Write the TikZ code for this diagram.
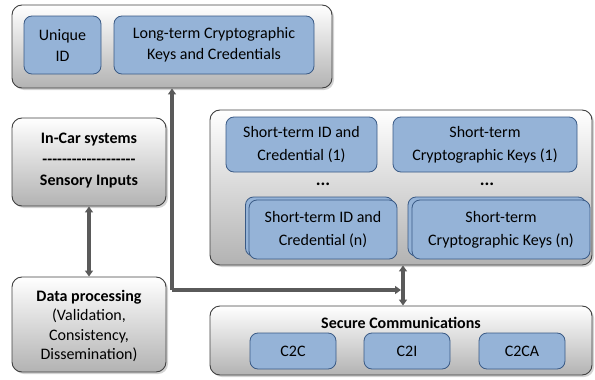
\documentclass[tikz,border=0pt]{standalone}
\usepackage{fontspec}
\setmainfont{Carlito}
\usetikzlibrary{shadows,arrows.meta}
\definecolor{bluefill}{HTML}{95B3D7}
\definecolor{blueline}{HTML}{3A5A85}
\definecolor{arrowgray}{HTML}{5A5A5A}
\definecolor{outline}{HTML}{404040}
\newcommand\dsh{-\kern0pt}
\tikzset{
  outerbox/.style={draw=outline, line width=0.9pt, rounded corners=10pt,
    top color=white, bottom color=black!30, drop shadow={opacity=0.35, shadow xshift=2pt, shadow yshift=-2pt}},
  bluebox/.style={draw=blueline, line width=0.8pt, rounded corners=8pt, fill=bluefill,
    align=center, inner sep=0pt, font=\fontsize{16}{21}\selectfont},
  stackback/.style={draw=blueline, line width=0.8pt, rounded corners=8pt, fill=bluefill},
  conn/.style={draw=arrowgray, line width=3.4pt},
  tip/.style={-{Triangle[length=6pt,width=8pt]}},
  dtip/.style={{Triangle[length=6pt,width=8pt]}-{Triangle[length=6pt,width=8pt]}},
  lbl/.style={align=center, font=\fontsize{16}{20}\selectfont, inner sep=0pt},
}
\begin{document}
\begin{tikzpicture}[x=1pt,y=-1pt]
\useasboundingbox (0,0) rectangle (595,380);
% top
\node[outerbox, minimum width=320pt, minimum height=83pt] (top) at (172,46.5) {};
\node[bluebox, minimum width=77pt, minimum height=58pt] (uid) at (62.5,45) {Unique\\ID};
\node[bluebox, minimum width=200pt, minimum height=58pt] (ltk) at (214,45) {Long-term Cryptographic\\Keys and Credentials};
% left
\node[outerbox, minimum width=154pt, minimum height=88pt] (incar) at (89,162) {};
\node[lbl, font=\fontsize{16}{21}\selectfont\bfseries] (incarT) at (89,161) {In-Car systems\\\dsh\dsh\dsh\dsh\dsh\dsh\dsh\dsh\dsh\dsh\dsh\dsh\dsh\dsh\dsh\dsh\dsh\dsh\dsh\\Sensory Inputs};
\node[outerbox, minimum width=154pt, minimum height=95pt] (dp) at (89,324.5) {};
\node[lbl, font=\fontsize{16}{19.5}\selectfont] (dpT) at (89,326) {\textbf{Data processing}\\(Validation,\\Consistency,\\Dissemination)};
% middle right
\node[outerbox, minimum width=382pt, minimum height=155pt] (mid) at (401,187.5) {};
\node[bluebox, minimum width=151pt, minimum height=55pt, font=\fontsize{16}{23}\selectfont] (st1) at (301.5,144.5) {Short-term ID and\\Credential (1)};
\node[bluebox, minimum width=184pt, minimum height=55pt, font=\fontsize{16}{23}\selectfont] (sk1) at (485,144.5) {Short-term\\Cryptographic Keys (1)};
\node[lbl, font=\fontsize{18}{15}\selectfont\bfseries] (dots1) at (323,184) {...};
\node[lbl, font=\fontsize{18}{15}\selectfont\bfseries] (dots2) at (487,184) {...};
\node[stackback, minimum width=148pt, minimum height=59pt] (stnb) at (319.5,226.5) {};
\node[bluebox, minimum width=148pt, minimum height=59pt, font=\fontsize{16}{23}\selectfont] (stn) at (323,229.5) {Short-term ID and\\Credential (n)};
\node[stackback, minimum width=178pt, minimum height=59pt] (sknb) at (497,226.5) {};
\node[bluebox, minimum width=178pt, minimum height=59pt, font=\fontsize{16}{23}\selectfont] (skn) at (501,229.5) {Short-term\\Cryptographic Keys (n)};
% secure
\node[outerbox, minimum width=382pt, minimum height=69pt] (sec) at (401,340.5) {};
\node[lbl, font=\fontsize{16}{15}\selectfont\bfseries] (secT) at (401,323) {Secure Communications};
\node[bluebox, minimum width=86pt, minimum height=36pt] (c2c) at (293,351) {C2C};
\node[bluebox, minimum width=86pt, minimum height=36pt] (c2i) at (407,351) {C2I};
\node[bluebox, minimum width=86pt, minimum height=36pt] (c2ca) at (522,351) {C2CA};
% connectors
\coordinate (corner) at (172,290);
\coordinate (vx) at (403,290);
\draw[conn, dtip] (incar.south) -- (dp.north);
\draw[conn, dtip] (mid.south -| vx) -- (sec.north -| vx);
\draw[conn, tip] (corner) -- (top.south -| corner);
\draw[conn, tip] (corner) -- ([xshift=-2pt]vx);
\end{tikzpicture}
\end{document}
